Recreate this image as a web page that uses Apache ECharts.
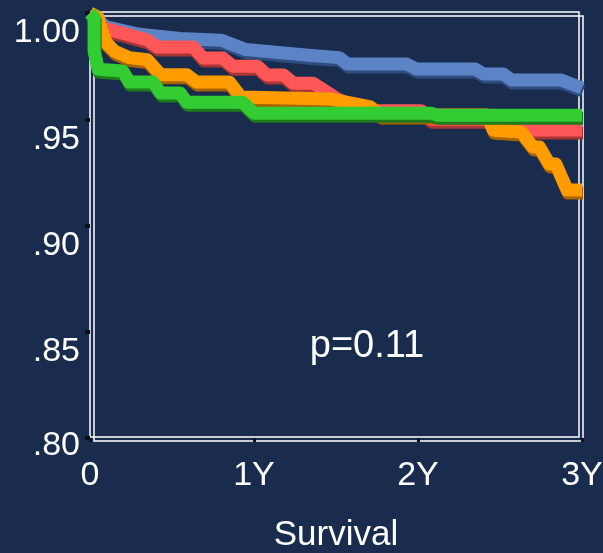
<!DOCTYPE html>
<html>
<head>
<meta charset="utf-8">
<script src="https://cdn.jsdelivr.net/npm/echarts@6/dist/echarts.min.js"></script>
<style>
  html, body { margin: 0; padding: 0; background: #192c4e; }
  #chart { width: 603px; height: 553px; }
</style>
</head>
<body>
<div id="chart"></div>
<script>
// Kaplan–Meier survival curves: [years, survival fraction]
const blueCurve = [
  [0, 1.0], [0.04, 0.997], [0.10, 0.9935], [0.30, 0.990], [0.55, 0.988],
  [0.80, 0.9872], [0.95, 0.9828], [1.35, 0.980], [1.52, 0.979], [1.57, 0.976],
  [1.93, 0.976], [1.99, 0.9736], [2.35, 0.9736], [2.40, 0.9713], [2.52, 0.9713],
  [2.57, 0.9685], [2.87, 0.9685], [3.0, 0.9647]
];
const redCurve = [
  [0, 1.0], [0.03, 0.998], [0.08, 0.993], [0.35, 0.9873], [0.41, 0.984],
  [0.63, 0.984], [0.69, 0.9788], [0.81, 0.9788], [0.87, 0.975], [1.02, 0.975],
  [1.08, 0.9708], [1.18, 0.9708], [1.24, 0.967], [1.36, 0.967], [1.50, 0.960],
  [1.62, 0.9555], [1.75, 0.954], [2.02, 0.954], [2.08, 0.950], [2.45, 0.950],
  [2.50, 0.945], [3.0, 0.945]
];
const orangeCurve = [
  [0, 1.0], [0.05, 0.998], [0.07, 0.992], [0.10, 0.986], [0.15, 0.982],
  [0.24, 0.979], [0.35, 0.978], [0.43, 0.971], [0.59, 0.971], [0.65, 0.9675],
  [0.85, 0.9675], [0.92, 0.9605], [1.47, 0.9595], [1.71, 0.9558], [1.77, 0.952],
  [2.42, 0.952], [2.46, 0.9448], [2.63, 0.944], [2.70, 0.937], [2.74, 0.937],
  [2.80, 0.929], [2.84, 0.929], [2.91, 0.9167], [3.0, 0.9167]
];
const greenCurve = [
  [0, 1.0], [0.025, 0.998], [0.025, 0.982], [0.05, 0.9735], [0.20, 0.9727],
  [0.24, 0.9675], [0.385, 0.9675], [0.43, 0.9624], [0.55, 0.9624], [0.59, 0.958],
  [0.93, 0.958], [1.0, 0.9528], [2.08, 0.9528], [2.12, 0.9519], [3.0, 0.9519]
];

const xTickLabels = ['0', '1Y', '2Y', '3Y'];
const pValueText = 'p=0.11';
const axisTitle = 'Survival';

const FONT = "'Liberation Sans', Arial, sans-serif";

// plot box (data region) and its double frame
const grid = {
  left: 90, top: 13, right: 21, bottom: 115,
  containLabel: false,
  outerBoundsMode: 'none'
};
const frameA = { x: 90, y: 12, w: 489, h: 425 };
const frameB = { x: 94, y: 16, w: 489, h: 425 };

function curveSeries(name, data, color, shadow) {
  return {
    name: name,
    type: 'line',
    data: data,
    symbol: 'none',
    showSymbol: false,
    clip: false,
    silent: true,
    lineStyle: {
      width: 13,
      color: color,
      join: 'round',
      cap: 'butt',
      shadowColor: shadow,
      shadowBlur: 0,
      shadowOffsetX: 1,
      shadowOffsetY: 3
    }
  };
}

const chart = echarts.init(document.getElementById('chart'), null, { renderer: 'canvas' });

chart.setOption({
  animation: false,
  backgroundColor: '#192c4e',
  grid: grid,
  xAxis: {
    type: 'value',
    min: 0,
    max: 3,
    interval: 1,
    name: axisTitle,
    nameLocation: 'middle',
    nameGap: 80,
    nameTextStyle: { color: '#ffffff', fontSize: 35, fontFamily: FONT },
    axisLine: { show: false },
    axisTick: { show: true, length: 4, lineStyle: { color: '#0b0f1a', width: 3 } },
    splitLine: { show: false },
    axisLabel: {
      color: '#ffffff',
      fontSize: 34,
      fontFamily: FONT,
      margin: 21,
      formatter: function (v) { return xTickLabels[Math.round(v)]; }
    }
  },
  yAxis: {
    type: 'value',
    min: 0.8,
    max: 1.0,
    interval: 0.05,
    axisLine: { show: false },
    axisTick: { show: true, length: 5, lineStyle: { color: '#0b0f1a', width: 4 } },
    splitLine: { show: false },
    axisLabel: {
      margin: 10,
      verticalAlign: 'top',
      formatter: function (v) {
        if (v > 0.999) return '{a|1.00}';
        const s = v.toFixed(2).slice(1);
        if (Math.abs(v - 0.8) < 1e-6) return '{b|' + s + '}';
        return '{a|' + s + '}';
      },
      rich: {
        a: { color: '#ffffff', fontSize: 34, fontFamily: FONT, lineHeight: 40 },
        b: { color: '#ffffff', fontSize: 34, fontFamily: FONT, lineHeight: 16 }
      }
    }
  },
  graphic: [
    {
      type: 'rect', z: 0, silent: true,
      shape: { x: frameA.x, y: frameA.y, width: frameA.w, height: frameA.h },
      style: { fill: 'none', stroke: '#ffffff', lineWidth: 1.5 }
    },
    {
      type: 'rect', z: 0, silent: true,
      shape: { x: frameB.x, y: frameB.y, width: frameB.w, height: frameB.h },
      style: { fill: 'none', stroke: '#ffffff', lineWidth: 1.5 }
    },
    {
      type: 'text', z: 10, silent: true,
      x: 367, y: 347,
      style: {
        text: pValueText,
        fill: '#ffffff',
        font: '38px ' + FONT,
        textAlign: 'center',
        textVerticalAlign: 'middle'
      }
    }
  ],
  series: [
    curveSeries('blue', blueCurve, '#5b83c6', '#2f4d80'),
    curveSeries('red', redCurve, '#ff5757', '#a83434'),
    curveSeries('orange', orangeCurve, '#ff9c00', '#a86400'),
    curveSeries('green', greenCurve, '#33cc33', '#1d7a1d')
  ]
});
</script>
</body>
</html>
